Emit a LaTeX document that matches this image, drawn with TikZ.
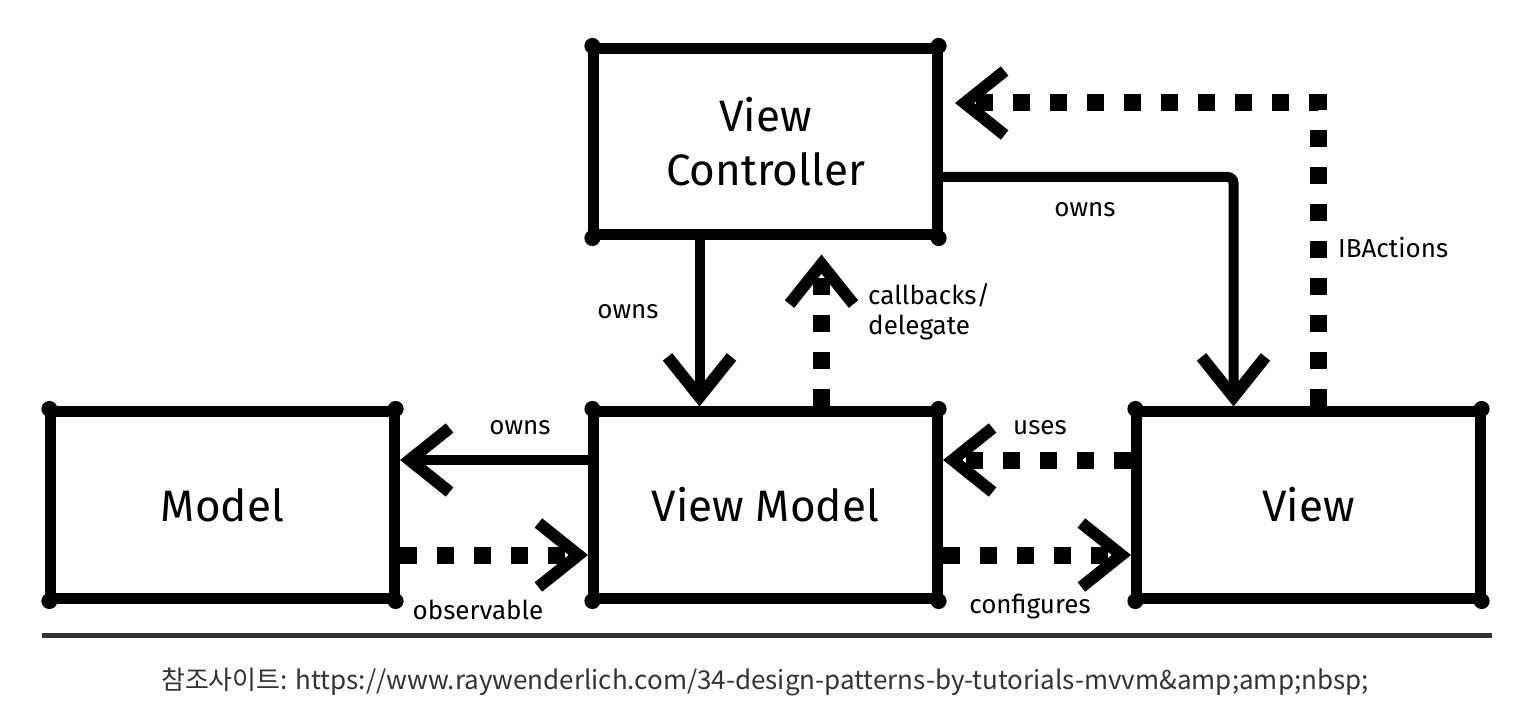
\documentclass[tikz,border=0pt]{standalone}
\usepackage{fontspec}
\setmainfont{Fira Sans}
\newfontfamily\cjk{Noto Sans CJK KR}
\usepackage{tikz}
\usetikzlibrary{arrows.meta, positioning, calc}
\definecolor{rulegray}{HTML}{333333}

\begin{document}
\begin{tikzpicture}[
    x=1pt, y=1pt,
    node distance=166pt and 188pt,
    box/.style={draw, line width=11pt, line join=round, minimum width=344pt,
                minimum height=186pt, align=center,
                font=\fontsize{44}{54}\selectfont},
    lbl/.style={font=\fontsize{26}{30}\selectfont, inner sep=0pt, align=left},
    arr/.style={line width=10pt,
                -{Straight Barb[length=40pt, width=64pt, line width=12pt]}},
    dotarr/.style={line width=17pt, dash pattern=on 17pt off 20pt,
                -{Straight Barb[length=40pt, width=64pt, line width=12pt]}},
]
    \useasboundingbox (0,0) rectangle (1530,710);

    % Nodes
    \node[box] (model) at (222.5,205) {Model};
    \node[box, right=of model] (vm) {View Model};
    \node[box, right=of vm] (view) {View};
    \node[box, above=of vm] (vc) {View\\Controller};

    % blobby corners
    \foreach \n in {vc, model, vm, view}
        \foreach \c in {north west, north east, south west, south east}
            \fill ($(\n.\c)!5pt!(\n.center)$) circle (8pt);

    % Arrows
    \draw[arr] ([xshift=-66pt]vc.south) -- ([xshift=-66pt]vm.north);
    \draw[dotarr, shorten >=14pt] ([xshift=56pt]vm.north) -- ([xshift=56pt]vc.south);
    \draw[arr, rounded corners=6pt] ([yshift=-35pt]vc.east) -| ([xshift=-75pt]view.north);
    \draw[dotarr, shorten >=12pt] ([xshift=10pt]view.north) |- ([yshift=39pt]vc.east);
    \draw[arr] ([yshift=45pt]vm.west) -- ([yshift=45pt]model.east);
    \draw[dotarr] ([yshift=-50pt]model.east) -- ([yshift=-50pt]vm.west);
    \draw[dotarr] ([yshift=45pt]view.west) -- ([yshift=45pt]vm.east);
    \draw[dotarr] ([yshift=-50pt]vm.east) -- ([yshift=-50pt]view.west);

    % Labels
    \node[lbl] (ownsvm) at (628,398) {owns};
    \node[lbl, anchor=west] (callbacks) at (868,398) {callbacks/\\delegate};
    \node[lbl] (ownsview) at (1085,500) {owns};
    \node[lbl, anchor=west] (ibactions) at (1338,462) {IBActions};
    \node[lbl] (ownsmodel) at (520,282) {owns};
    \node[lbl] (observable) at (478,100) {observable};
    \node[lbl] (uses) at (1040,282) {uses};
    \node[lbl] (configures) at (1030,103) {configures};

    % Rule and caption
    \draw[rulegray, line width=5pt] (42,75) -- (1492,75);
    \node[font=\cjk\fontsize{26}{30}\selectfont, text=rulegray] (caption) at (765,28)
        {참조사이트: https://www.raywenderlich.com/34-design-patterns-by-tutorials-mvvm\&amp;amp;nbsp;};
\end{tikzpicture}
\end{document}
